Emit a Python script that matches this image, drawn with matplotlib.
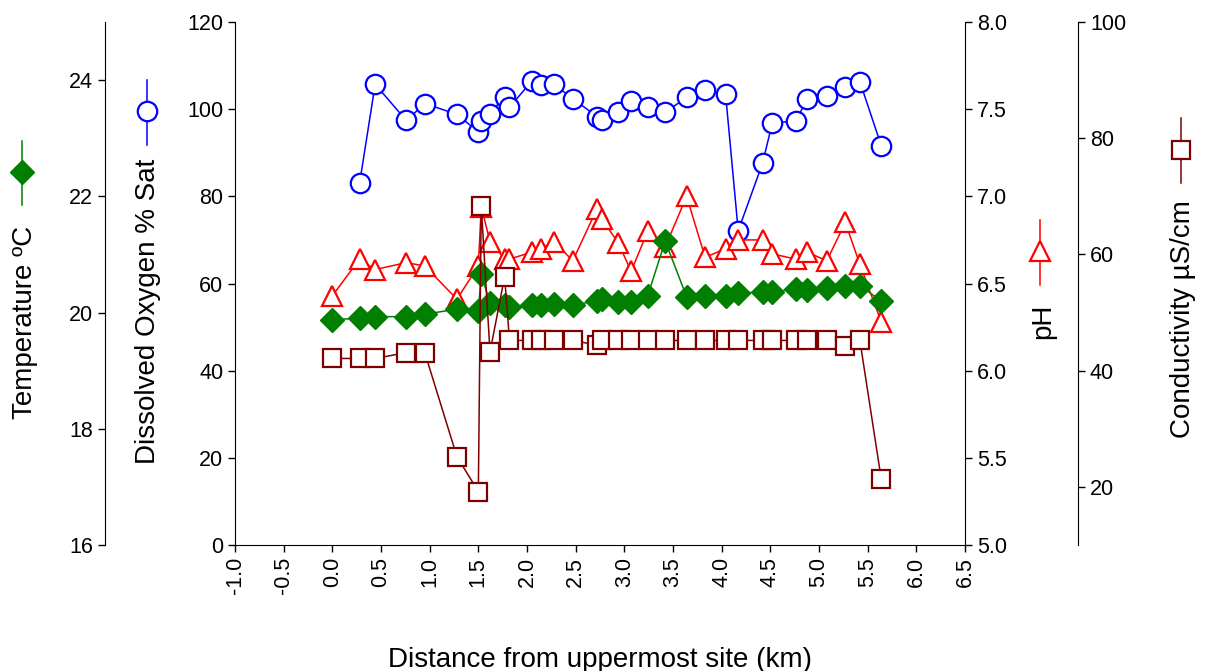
import numpy as np
import matplotlib
matplotlib.use('Agg')
import matplotlib.pyplot as plt

plt.rcParams['font.family'] = ['Liberation Sans', 'DejaVu Sans']

# sampling sites along the stream (km from uppermost site)
dist_km = [0.00, 0.28, 0.44, 0.76, 0.95, 1.28, 1.50, 1.53, 1.62, 1.77, 1.82,
           2.05, 2.14, 2.28, 2.47, 2.72, 2.77, 2.94, 3.07, 3.24, 3.42, 3.64,
           3.83, 4.04, 4.17, 4.42, 4.52, 4.76, 4.88, 5.08, 5.27, 5.42, 5.64]

do_sat = [np.nan, 83.0, 105.7, 97.4, 101.3, 98.8, 94.8, 97.3, 99.0, 102.9, 100.4,
          106.5, 105.6, 105.7, 102.4, 98.3, 97.5, 99.4, 101.9, 100.5, 99.3, 102.7,
          104.4, 103.5, 72.1, 87.6, 96.8, 97.3, 102.3, 103.0, 105.0, 106.3, 91.6]

ph = [6.43, 6.64, 6.58, 6.62, 6.60, 6.41, 6.60, 6.94, 6.74, 6.64, 6.64,
      6.68, 6.70, 6.74, 6.63, 6.93, 6.87, 6.73, 6.57, 6.80, 6.71, 7.00,
      6.65, 6.70, 6.75, 6.75, 6.67, 6.64, 6.68, 6.63, 6.85, 6.61, 6.28]

temp_c = [19.88, 19.90, 19.93, 19.93, 19.97, 20.06, 20.03, 20.66, 20.16, 20.13, 20.10,
          20.13, 20.13, 20.15, 20.13, 20.20, 20.24, 20.19, 20.19, 20.29, 21.23, 20.27,
          20.28, 20.28, 20.33, 20.36, 20.36, 20.40, 20.39, 20.43, 20.46, 20.46, 20.20]

cond = [42.1, 42.1, 42.1, 43.1, 43.1, 25.2, 19.2, 68.3, 43.2, 56.2, 45.2,
        45.2, 45.2, 45.2, 45.2, 44.4, 45.2, 45.2, 45.2, 45.2, 45.2, 45.2,
        45.2, 45.2, 45.2, 45.2, 45.2, 45.2, 45.2, 45.2, 44.2, 45.2, 21.3]

x_ticks = np.arange(-1.0, 6.51, 0.5)

TICK_FS = 15.5
LABEL_FS = 20

fig = plt.figure(figsize=(12.07, 6.71), dpi=100)
ax = fig.add_axes([235 / 1207, 1 - 545 / 671, 730 / 1207, 523 / 671])
ax_ph = ax.twinx()
ax_t = ax.twinx()
ax_c = ax.twinx()

# series styles: colour, marker, marker size
s_do = dict(color='#0000ff', marker='o', ms=14, mfc='white', mew=1.6, lw=1.1)
s_ph = dict(color='#ff0000', marker='^', ms=14, mfc='white', mew=1.6, lw=1.1)
s_t = dict(color='#007f00', marker='D', ms=12.5, mfc='#007f00', mew=1, lw=1.1)
s_c = dict(color='#7f0000', marker='s', ms=12.5, mfc='white', mew=1.6, lw=1.1)

ax.plot(dist_km, do_sat, **s_do)
ax_ph.plot(dist_km, ph, **s_ph)
ax_t.plot(dist_km, temp_c, **s_t)
ax_c.plot(dist_km, cond, **s_c)

ax.set_xlim(-1.0, 6.5)
ax.set_xticks(x_ticks)
ax.set_xticklabels([f'{v:.1f}' for v in x_ticks], rotation=90)

ax.set_ylim(0, 120)
ax.set_yticks(np.arange(0, 121, 20))
ax_ph.set_ylim(5.0, 8.0)
ax_ph.set_yticks(np.arange(5.0, 8.01, 0.5))
ax_ph.set_yticklabels([f'{v:.1f}' for v in np.arange(5.0, 8.01, 0.5)])
ax_t.set_ylim(16, 25)
ax_t.set_yticks([16, 18, 20, 22, 24])
ax_c.set_ylim(10, 100)
ax_c.set_yticks([20, 40, 60, 80, 100])

for a in (ax, ax_ph, ax_t, ax_c):
    for s in a.spines.values():
        s.set_visible(False)
    a.tick_params(labelsize=TICK_FS, length=5, width=1, direction='out')

ax.spines['left'].set_visible(True)
ax.spines['bottom'].set_visible(True)
ax_ph.spines['right'].set_visible(True)

ax_t.yaxis.tick_left()
ax_t.yaxis.set_label_position('left')
ax_t.spines['left'].set_position(('axes', -0.178))
ax_t.spines['left'].set_visible(True)

ax_c.spines['right'].set_position(('axes', 1.155))
ax_c.spines['right'].set_visible(True)

ax.set_xlabel('Distance from uppermost site (km)', fontsize=LABEL_FS, va='center')
ax.xaxis.set_label_coords(0.5, -0.22)

ylabels = [
    (ax_t, 'Temperature ºC', -0.288, 0.426),
    (ax, 'Dissolved Oxygen % Sat', -0.119, 0.446),
    (ax_ph, 'pH', 1.107, 0.428),
    (ax_c, 'Conductivity µS/cm', 1.299, 0.432),
]
for a, txt, lx, ly in ylabels:
    a.set_ylabel(txt, fontsize=LABEL_FS, va='center', ha='center', rotation=90)
    a.yaxis.set_label_coords(lx, ly)

# symbol keys beside the axis titles
keys = [
    (s_t, -0.292, 0.713, 0.650, 0.773),
    (s_do, -0.120, 0.830, 0.765, 0.889),
    (s_ph, 1.103, 0.562, 0.497, 0.621),
    (s_c, 1.296, 0.755, 0.692, 0.816),
]
for style, kx, ky, y0, y1 in keys:
    ax.plot([kx, kx], [y0, y1], color=style['color'], lw=1.1,
            transform=ax.transAxes, clip_on=False)
    ax.plot([kx], [ky], linestyle='none', transform=ax.transAxes, clip_on=False,
            **{k: v for k, v in style.items() if k != 'lw'})

fig.savefig('out.png', dpi=100)
